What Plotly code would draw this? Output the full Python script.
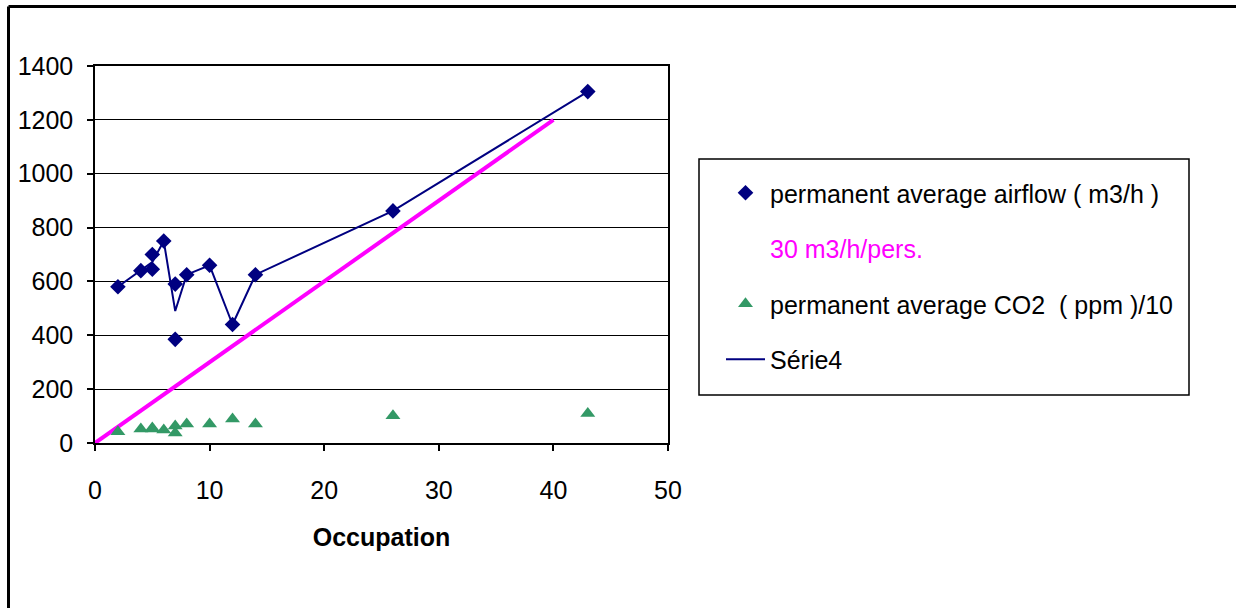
import plotly.graph_objects as go

# ---- data ----
occupation = [2, 4, 5, 5, 6, 7, 7, 8, 10, 12, 14, 26, 43]
airflow = [580, 640, 645, 700, 750, 590, 385, 625, 660, 440, 625, 862, 1305]
co2_div10 = [42, 52, 56, 52, 48, 63, 37, 71, 71, 89, 71, 101, 110]

serie4_x = [2, 4, 5, 6, 7, 8, 10, 12, 14, 26, 43]
serie4_y = [580, 640, 672, 750, 490, 625, 660, 440, 625, 862, 1305]

ref_x = [0, 40]
ref_y = [0, 1200]

x_ticks = [0, 10, 20, 30, 40, 50]
y_ticks = [0, 200, 400, 600, 800, 1000, 1200, 1400]

NAVY = "#000080"
MAGENTA = "#FF00FF"
GREEN = "#339966"
FONT = "Liberation Sans, Arial, sans-serif"
FS = 25

W, H = 1236, 608
L, R, T, B = 95, 668, 66, 443  # plot area in pixels
pw, ph = R - L, B - T


def px(xp):
    return (xp - L) / pw


def py(yp):
    return (B - yp) / ph


fig = go.Figure()

fig.add_trace(go.Scatter(
    x=occupation, y=airflow, mode="markers",
    name="permanent average airflow ( m3/h )",
    marker=dict(symbol="diamond", size=12, color=NAVY),
    legendgroup="a",
))
fig.add_trace(go.Scatter(
    x=ref_x, y=ref_y, mode="lines", showlegend=False,
    line=dict(color=MAGENTA, width=4), hoverinfo="skip",
))
fig.add_trace(go.Scatter(
    x=[None], y=[None], mode="markers",
    name="<span style='color:#FF00FF'>30 m3/h/pers.</span>",
    marker=dict(size=1, color="rgba(0,0,0,0)"),
    legendgroup="b",
))
fig.add_trace(go.Scatter(
    x=occupation, y=co2_div10, mode="markers",
    name="permanent average CO2  ( ppm )/10",
    marker=dict(symbol="triangle-up", size=13, color=GREEN),
    legendgroup="c",
))
fig.add_trace(go.Scatter(
    x=serie4_x, y=serie4_y, mode="lines", name="Série4",
    line=dict(color=NAVY, width=2),
    legendgroup="d",
))

axis_common = dict(
    showline=True, linecolor="black", linewidth=1.5, mirror=True,
    ticks="outside", ticklen=6, tickwidth=1.5, tickcolor="black",
    tickfont=dict(family=FONT, size=FS, color="black"),
    zeroline=False,
)

fig.update_xaxes(
    range=[0, 50], tickvals=x_ticks, showgrid=False,
    ticklabelstandoff=18,
    title=dict(text="<b>Occupation</b>", font=dict(family=FONT, size=FS, color="black"), standoff=26),
    **axis_common,
)
fig.update_yaxes(
    range=[0, 1400], tickvals=y_ticks, showgrid=True, gridcolor="black", gridwidth=1,
    ticklabelstandoff=9,
    **axis_common,
)

shapes = [
    # legend box
    dict(type="rect", xref="paper", yref="paper",
         x0=px(699), x1=px(1189), y0=py(395), y1=py(159),
         line=dict(color="black", width=1.5), fillcolor="rgba(0,0,0,0)"),
    # outer chart frame (left and top edges)
    dict(type="line", xref="paper", yref="paper",
         x0=px(8.5), x1=px(8.5), y0=py(6.5), y1=py(615),
         line=dict(color="black", width=3)),
    dict(type="line", xref="paper", yref="paper",
         x0=px(8.5), x1=px(1240), y0=py(6.5), y1=py(6.5),
         line=dict(color="black", width=3)),
]

fig.update_layout(
    width=W, height=H,
    margin=dict(l=L, r=W - R, t=T, b=H - B, autoexpand=False),
    paper_bgcolor="white", plot_bgcolor="white",
    font=dict(family=FONT, size=FS, color="black"),
    showlegend=True,
    legend=dict(
        x=px(721), y=py(170), xanchor="left", yanchor="top",
        bgcolor="rgba(0,0,0,0)", borderwidth=0,
        font=dict(family=FONT, size=FS, color="black"),
        traceorder="grouped", tracegroupgap=20, itemwidth=39,
    ),
    shapes=shapes,
)

fig.write_html("out.html", config={"displayModeBar": False},
               post_script="document.body.style.margin='0';")
